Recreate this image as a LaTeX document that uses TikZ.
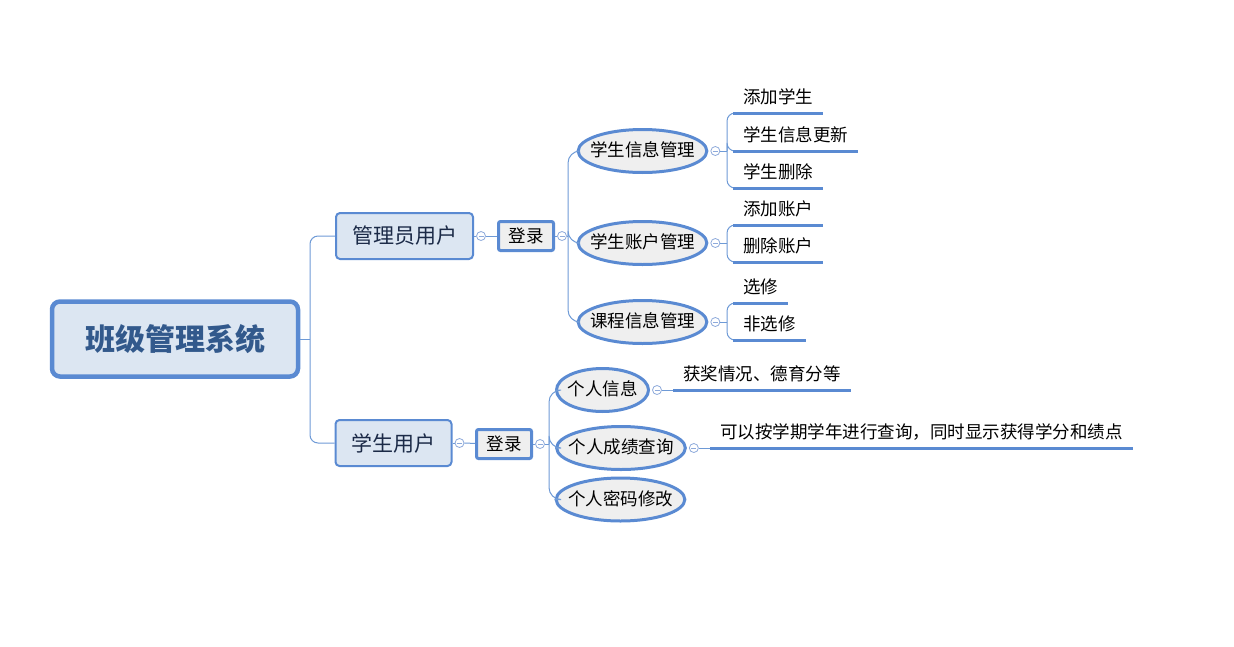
\documentclass[tikz,border=0pt]{standalone}
\usepackage{fontspec}
\setmainfont{Noto Sans CJK SC}
\usepackage{xcolor}
\usetikzlibrary{shapes.geometric}
\definecolor{mmblue}{HTML}{5A8AD2}
\definecolor{mmline}{HTML}{6E9AD6}
\definecolor{mmdot}{HTML}{8EAADB}
\definecolor{mmfill}{HTML}{DCE6F2}
\definecolor{mmgray}{HTML}{EFEFEF}
\definecolor{mmroot}{HTML}{32598C}
\definecolor{mmtext}{HTML}{1B2A47}

\begin{document}
\begin{tikzpicture}[x=1pt, y=-1pt,
    root/.style = {draw=mmblue, fill=mmfill, line width=4.5pt, rounded corners=8pt, minimum width=246pt, minimum height=75pt, text=mmroot, font=\fontsize{30}{34}\selectfont\bfseries},
    user/.style = {draw=mmblue, fill=mmfill, line width=2pt, rounded corners=4pt, inner xsep=16pt, minimum height=46pt, text=mmtext, font=\fontsize{21}{25}\selectfont},
    login/.style = {draw=mmblue, fill=mmgray, line width=3pt, rounded corners=2pt, minimum width=55pt, minimum height=29pt, font=\fontsize{17.5}{21}\selectfont},
    task/.style = {ellipse, draw=mmblue, fill=mmgray, line width=3pt, inner xsep=-7pt, inner ysep=6.7pt, minimum width=92pt, text height=14pt, text depth=3pt, font=\fontsize{17.5}{21}\selectfont},
    leaf/.style = {anchor=south west, inner xsep=10pt, inner ysep=6pt, text height=14pt, text depth=3pt, font=\fontsize{17.5}{21}\selectfont},
    dot/.style = {circle, draw=mmdot, fill=white, line width=0.8pt, minimum size=9pt, inner sep=0pt,
      path picture={\draw[mmdot, line width=0.8pt] ([xshift=-2.5pt]path picture bounding box.center) -- ([xshift=2.5pt]path picture bounding box.center);}},
    link/.style = {draw=mmline, line width=1pt},
    uline/.style = {draw=mmblue, line width=3pt}]
  \useasboundingbox (0,0) rectangle (1234,646);

  \node[root] (root) at (175,339) {班级管理系统};
  \node[user] (admin) at (404.5,236) {管理员用户};
  \node[login] (alog) at (526,236) {登录};
  \node[user] (stu) at (393.5,443) {学生用户};
  \node[login] (slog) at (504,444) {登录};

  \node[task] (info) at (642.5,151) {学生信息管理};
  \node[task] (acct) at (642.5,243) {学生账户管理};
  \node[task] (course) at (642.5,322) {课程信息管理};
  \node[task] (pinfo) at (602.5,390) {个人信息};
  \node[task] (score) at (621,448) {个人成绩查询};
  \node[task] (pwd) at (620.5,499.5) {个人密码修改};

  \node[dot] (d1) at ([xshift=7pt]admin.east) {};
  \node[dot] (d2) at ([xshift=7pt]alog.east) {};
  \node[dot] (d3) at ([xshift=7pt]info.east) {};
  \node[dot] (d4) at ([xshift=7pt]acct.east) {};
  \node[dot] (d5) at ([xshift=7pt]course.east) {};
  \node[dot] (d6) at ([xshift=7pt]stu.east) {};
  \node[dot] (d7) at ([xshift=7pt]slog.east) {};
  \node[dot] (d8) at ([xshift=7pt]pinfo.east) {};
  \node[dot] (d9) at ([xshift=7pt]score.east) {};

  \node[leaf] (l1) at (733,113) {添加学生};
  \node[leaf] (l2) at (733,151) {学生信息更新};
  \node[leaf] (l3) at (733,188) {学生删除};
  \node[leaf] (l4) at (733,225) {添加账户};
  \node[leaf] (l5) at (733,262) {删除账户};
  \node[leaf] (l6) at (733,303) {选修};
  \node[leaf] (l7) at (733,340) {非选修};
  \node[leaf] (l8) at (673,390) {获奖情况、德育分等};
  \node[leaf] (l9) at (710,448) {可以按学期学年进行查询，同时显示获得学分和绩点};

  \coordinate (jr) at (310,339);
  \coordinate (ja) at (568,236);
  \coordinate (js) at (549,444);
  \coordinate (jb1) at (727,151);
  \coordinate (jb2) at (727,243);
  \coordinate (jb3) at (727,322);

  \draw[link] (root.east) -- (jr);
  \draw[link, rounded corners=8pt] (jr) |- (admin.west);
  \draw[link, rounded corners=8pt] (jr) |- (stu.west);

  \draw[link] (admin) -- (d1);
  \draw[link] (d1) -- (alog);
  \draw[link] (alog) -- (d2);
  \draw[link] (d2) -- (ja);
  \draw[link, rounded corners=12pt] (ja) |- (info.west);
  \draw[link, rounded corners=12pt] (ja) |- (acct.west);
  \draw[link, rounded corners=12pt] (ja) |- (course.west);

  \draw[link] (d3) -- (jb1);
  \draw[link, rounded corners=8pt] (jb1) |- (l1.south west);
  \draw[link, rounded corners=8pt] (jb1) |- (l2.south west);
  \draw[link, rounded corners=8pt] (jb1) |- (l3.south west);
  \draw[link] (d4) -- (jb2);
  \draw[link, rounded corners=8pt] (jb2) |- (l4.south west);
  \draw[link, rounded corners=8pt] (jb2) |- (l5.south west);
  \draw[link] (d5) -- (jb3);
  \draw[link, rounded corners=8pt] (jb3) |- (l6.south west);
  \draw[link, rounded corners=8pt] (jb3) |- (l7.south west);

  \draw[link] (stu) -- (d6);
  \draw[link] (d6) -- (slog);
  \draw[link] (slog) -- (d7);
  \draw[link] (d7) -- (js);
  \draw[link, rounded corners=12pt] (js) |- (pinfo.west);
  \draw[link, rounded corners=12pt] (js) |- (score.west);
  \draw[link, rounded corners=12pt] (js) |- (pwd.west);
  \draw[link] (d8) -- (l8.south west);
  \draw[link] (d9) -- (l9.south west);

  \foreach \n in {l1,l2,l3,l4,l5,l6,l7,l8,l9}
    \draw[uline] (\n.south west) -- (\n.south east);
\end{tikzpicture}
\end{document}
